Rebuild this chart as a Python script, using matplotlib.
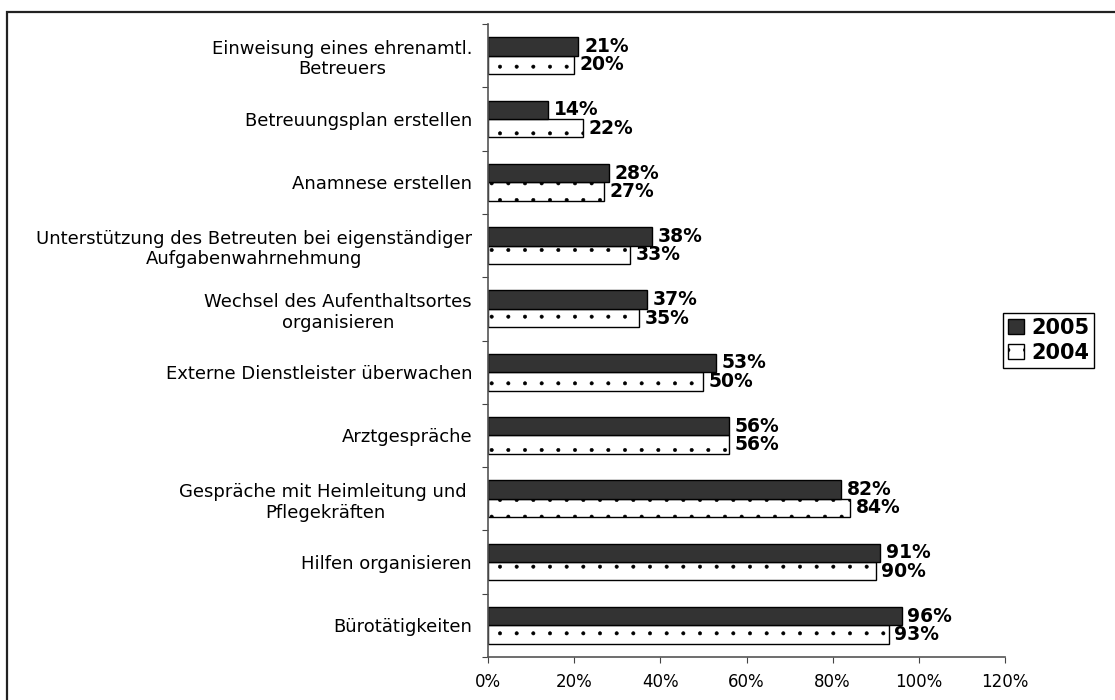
import matplotlib.pyplot as plt
import matplotlib.patches as patches
import numpy as np

plt.rcParams['font.family'] = 'DejaVu Sans'
plt.rcParams['hatch.linewidth'] = 0.4

categories = [
    "Einweisung eines ehrenamtl.\nBetreuers",
    "Betreuungsplan erstellen",
    "Anamnese erstellen",
    "Unterstützung des Betreuten bei eigenständiger\nAufgabenwahrnehmung",
    "Wechsel des Aufenthaltsortes\norganisieren",
    "Externe Dienstleister überwachen",
    "Arztgespräche",
    "Gespräche mit Heimleitung und \nPflegekräften",
    "Hilfen organisieren",
    "Bürotätigkeiten",
]
values_2005 = [21, 14, 28, 38, 37, 53, 56, 82, 91, 96]
values_2004 = [20, 22, 27, 33, 35, 50, 56, 84, 90, 93]
xticks = [0, 20, 40, 60, 80, 100, 120]

fig = plt.figure(figsize=(11.15, 7.0), dpi=100)
ax = fig.add_axes([488 / 1115, 1 - 657 / 700, (1005 - 488) / 1115, (657 - 24) / 700])

# outer frame, runs off the right and bottom edge
fig.patches.append(patches.Rectangle((7 / 1115, -0.05), 1.2, 1 - 12 / 700 + 0.05,
                                     transform=fig.transFigure, fill=False,
                                     edgecolor='#222222', linewidth=1.6))

y = np.arange(len(categories))
h = 0.29
# 2004 first so the dark bars sit on top
b2 = ax.barh(y + h / 2, values_2004, height=h, color='white', edgecolor='black',
             linewidth=1.0, hatch='.', label='2004')
b1 = ax.barh(y - h / 2, values_2005, height=h, color='#333333', edgecolor='black',
             linewidth=1.0, label='2005')

for bars, vals in [(b1, values_2005), (b2, values_2004)]:
    for bar, v in zip(bars, vals):
        ax.text(bar.get_width() + 1.3, bar.get_y() + bar.get_height() / 2, f"{v}%",
                va='center', ha='left', fontsize=13.5, fontweight='bold')

ax.set_ylim(len(categories) - 0.5, -0.5)
ax.set_xlim(0, 120)
ax.set_xticks(xticks)
ax.set_xticklabels([f"{t}%" for t in xticks], fontsize=12)
ax.set_yticks(np.arange(-0.5, len(categories), 1))
ax.set_yticklabels([])
ax.set_yticks(y, minor=True)
ax.set_yticklabels(categories, minor=True, fontsize=13, multialignment='center')
ax.tick_params(axis='y', which='minor', length=0, pad=11.5)
ax.tick_params(axis='y', which='major', length=4, direction='out', color='#444444')
ax.tick_params(axis='x', length=4, direction='out', color='#444444', pad=7.5)

for s in ['top', 'right']:
    ax.spines[s].set_visible(False)
for s in ['left', 'bottom']:
    ax.spines[s].set_color('#555555')
    ax.spines[s].set_linewidth(1.2)

leg = ax.legend([b1, b2], ['2005', '2004'], loc='center left',
                bbox_to_anchor=(1003 / 1115, 1 - 340.5 / 700),
                bbox_transform=fig.transFigure, prop={'weight': 'bold', 'size': 15},
                fancybox=False, edgecolor='black', framealpha=1, handlelength=0.75,
                handleheight=0.75, handletextpad=0.35, borderpad=0.25, labelspacing=0.25,
                borderaxespad=0)
leg.get_frame().set_linewidth(1.0)

fig.savefig('out.png', dpi=100)
